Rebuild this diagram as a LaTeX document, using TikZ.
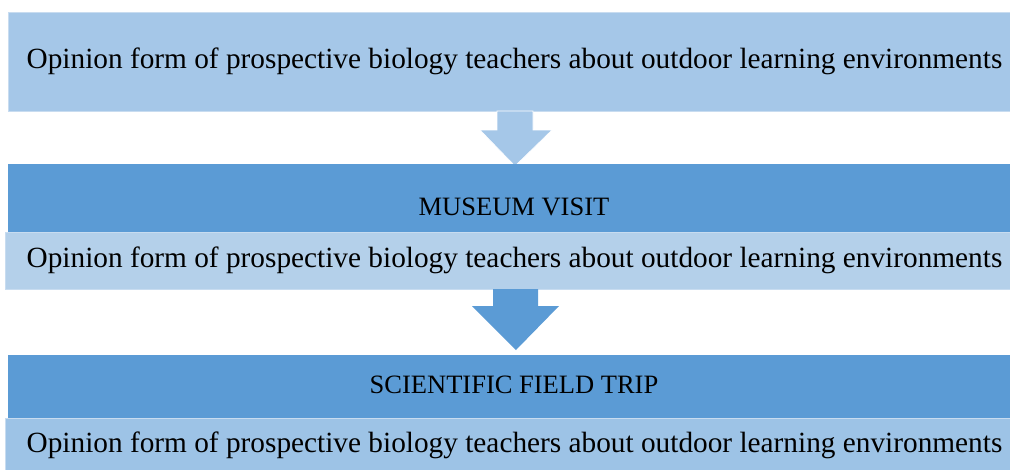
\documentclass[tikz,border=0pt]{standalone}
\usepackage{fontspec}
\setmainfont{Liberation Serif}
\definecolor{lightA}{RGB}{165,199,232}
\definecolor{darkB}{RGB}{91,155,213}
\definecolor{lightC}{RGB}{180,208,234}
\definecolor{lightD}{RGB}{157,195,230}
\definecolor{edgeL}{RGB}{200,220,240}
\tikzset{
  txt/.style={font=\fontsize{29.3}{33}\selectfont, inner sep=0pt, text=black},
  ttl/.style={font=\fontsize{26.5}{30}\selectfont, inner sep=0pt, text=black},
  boxL/.style={fill=lightA, draw=edgeL, line width=0.8pt},
  boxD/.style={fill=darkB, draw=none},
  boxS/.style={fill=lightC, draw=edgeL, line width=1pt},
  boxT/.style={fill=lightD, draw=edgeL, line width=1pt},
}
\begin{document}
\begin{tikzpicture}[x=1pt,y=-1pt]
\useasboundingbox (0,0) rectangle (1010,469);
% top box
\path[boxL] (8,12) rectangle (1012,111);
\node[txt] (t1) at (514.5,61) {Opinion form of prospective biology teachers about outdoor learning environments};
% arrow 1
\path[fill=lightA, draw=white, line width=0.6pt] (497,111) -- (533,111) -- (533,130) -- (552,130) -- (515,166) -- (480,130) -- (497,130) -- cycle;
% museum block
\path[boxD] (8,164) rectangle (1012,232);
\node[ttl] (m) at (514,207) {MUSEUM VISIT};
\path[boxS] (5,232) rectangle (1012,289);
\node[txt] (t2) at (514.5,260) {Opinion form of prospective biology teachers about outdoor learning environments};
% arrow 2
\path[fill=darkB] (493,289) -- (538,289) -- (538,306) -- (559,306) -- (516,350) -- (472,306) -- (493,306) -- cycle;
% field trip block
\path[boxD] (8,355) rectangle (1012,418);
\node[ttl] (s) at (514,385) {SCIENTIFIC FIELD TRIP};
\path[boxT] (5,418) rectangle (1012,475);
\node[txt] (t3) at (514.5,445) {Opinion form of prospective biology teachers about outdoor learning environments};
\end{tikzpicture}
\end{document}
